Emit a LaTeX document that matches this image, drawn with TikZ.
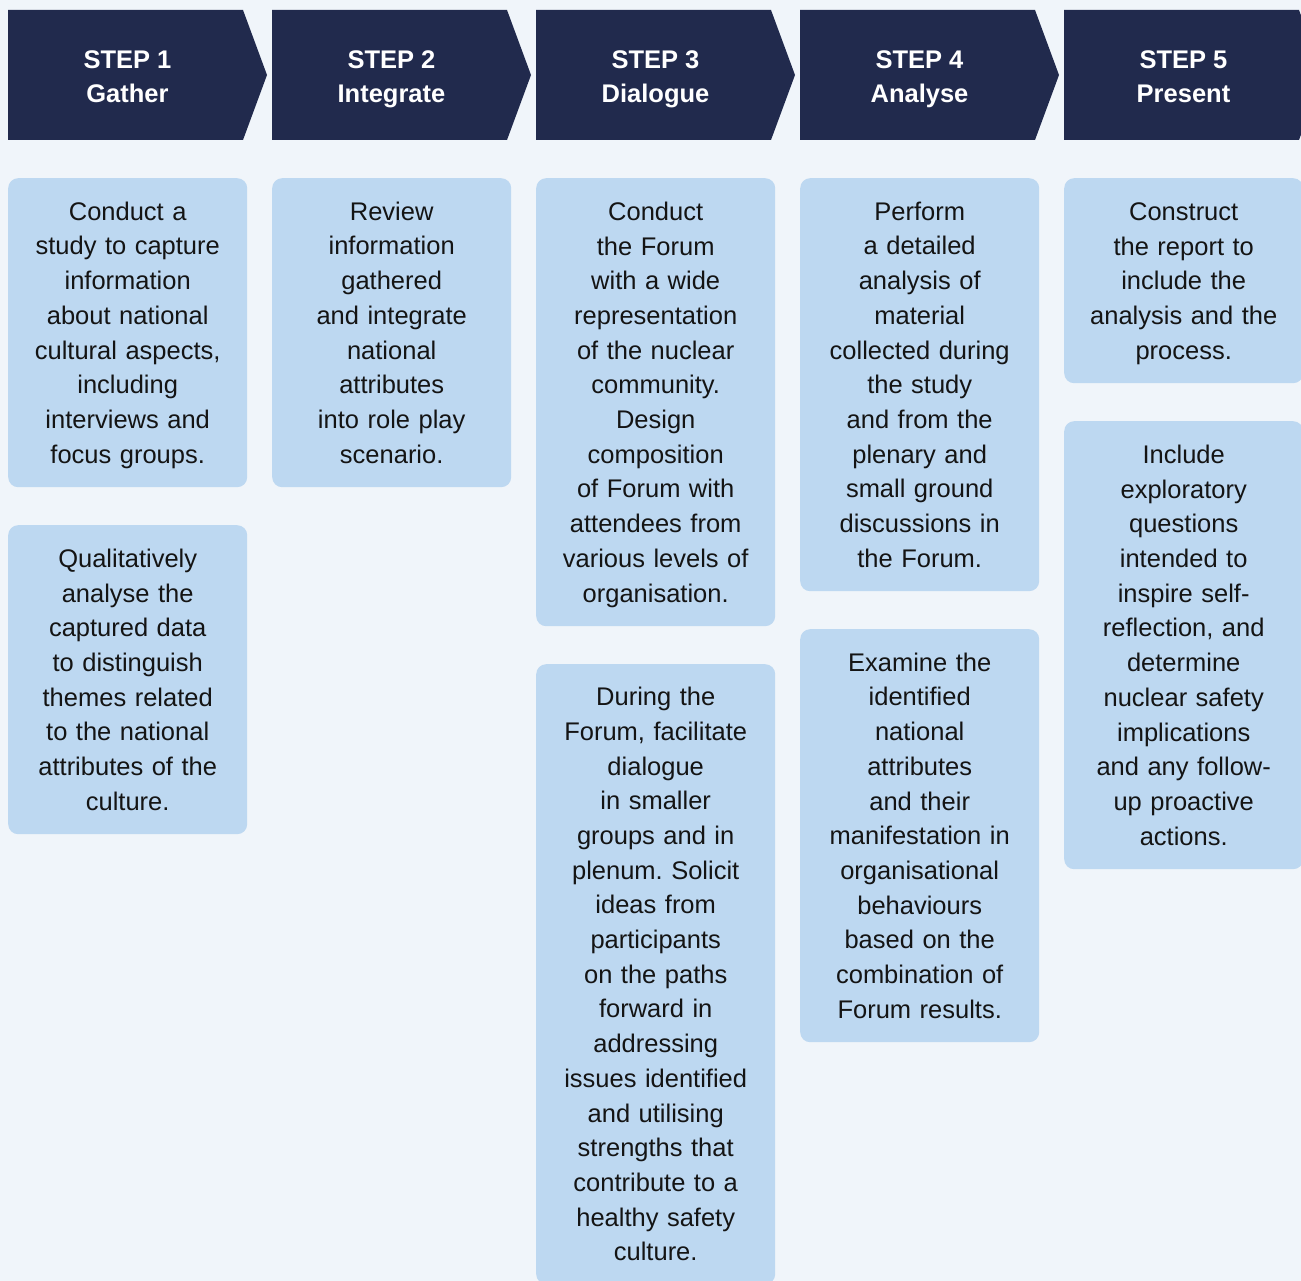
\documentclass[tikz,border=0pt]{standalone}
\usepackage{fontspec}
\setmainfont{Liberation Sans}
\frenchspacing
\definecolor{pagebg}{RGB}{240,245,250}
\definecolor{navy}{RGB}{33,42,77}
\definecolor{cardblue}{RGB}{189,216,241}
% struts so first and last lines sit the same in every box
\newcommand{\hdstrut}{\rule[-8pt]{0pt}{34pt}}
\newcommand{\cdstrut}{\rule[-8.3pt]{0pt}{34.7pt}}
\tikzset{
  steptext/.style={text=white, align=center, font=\bfseries\fontsize{25.5}{34}\selectfont,
    execute at begin node=\hdstrut, execute at end node=\hdstrut},
  card/.style={fill=cardblue, rounded corners=10pt, anchor=north west, text width=239pt,
    inner xsep=0pt, inner ysep=0pt, align=center, text=black!92,
    font=\fontsize{25.5}{34.7}\selectfont,
    execute at begin node=\cdstrut, execute at end node=\cdstrut}
}
\begin{document}
\begin{tikzpicture}[x=1pt,y=-1pt]
\fill[pagebg] (0,0) rectangle (1301,1281);
\useasboundingbox (0,0) rectangle (1301,1281);
% header arrows
\foreach \n/\what [count=\i from 0] in {1/Gather,2/Integrate,3/Dialogue,4/Analyse,5/Present} {
  \pgfmathsetmacro{\xl}{8+264*\i}
  \fill[navy] (\xl,10) -- ++(235,0) -- ++(24,65) -- ++(-24,65) -- ++(-235,0) -- cycle;
  \node[steptext] (step\n) at (\xl+119.5,81) {STEP \n\\\what};
}
% step 1
\node[card, minimum height=309pt] (gather1) at (8,178) {Conduct a\\study to capture\\information\\about national\\cultural aspects,\\including\\interviews and\\focus groups.};
\node[card, minimum height=309pt] (gather2) at (8,525) {Qualitatively\\analyse the\\captured data\\to distinguish\\themes related\\to the national\\attributes of the\\culture.};
% step 2
\node[card, minimum height=309pt] (integrate1) at (272,178) {Review\\information\\gathered\\and integrate\\national\\attributes\\into role play\\scenario.};
% step 3
\node[card, minimum height=448pt] (dialogue1) at (536,178) {Conduct\\the Forum\\with a wide\\representation\\of the nuclear\\community.\\Design\\composition\\of Forum with\\attendees from\\various levels of\\organisation.};
\node[card, minimum height=620pt] (dialogue2) at (536,664) {During the\\Forum, facilitate\\dialogue\\in smaller\\groups and in\\plenum. Solicit\\ideas from\\participants\\on the paths\\forward in\\addressing\\issues identified\\and utilising\\strengths that\\contribute to a\\healthy safety\\culture.};
% step 4
\node[card, minimum height=413pt] (analyse1) at (800,178) {Perform\\a detailed\\analysis of\\material\\collected during\\the study\\and from the\\plenary and\\small ground\\discussions in\\the Forum.};
\node[card, minimum height=413pt] (analyse2) at (800,629) {Examine the\\identified\\national\\attributes\\and their\\manifestation in\\organisational\\behaviours\\based on the\\combination of\\Forum results.};
% step 5
\node[card, minimum height=205pt] (present1) at (1064,178) {Construct\\the report to\\include the\\analysis and the\\process.};
\node[card, minimum height=448pt] (present2) at (1064,421) {Include\\exploratory\\questions\\intended to\\inspire self-\\reflection, and\\determine\\nuclear safety\\implications\\and any follow-\\up proactive\\actions.};
\end{tikzpicture}
\end{document}
